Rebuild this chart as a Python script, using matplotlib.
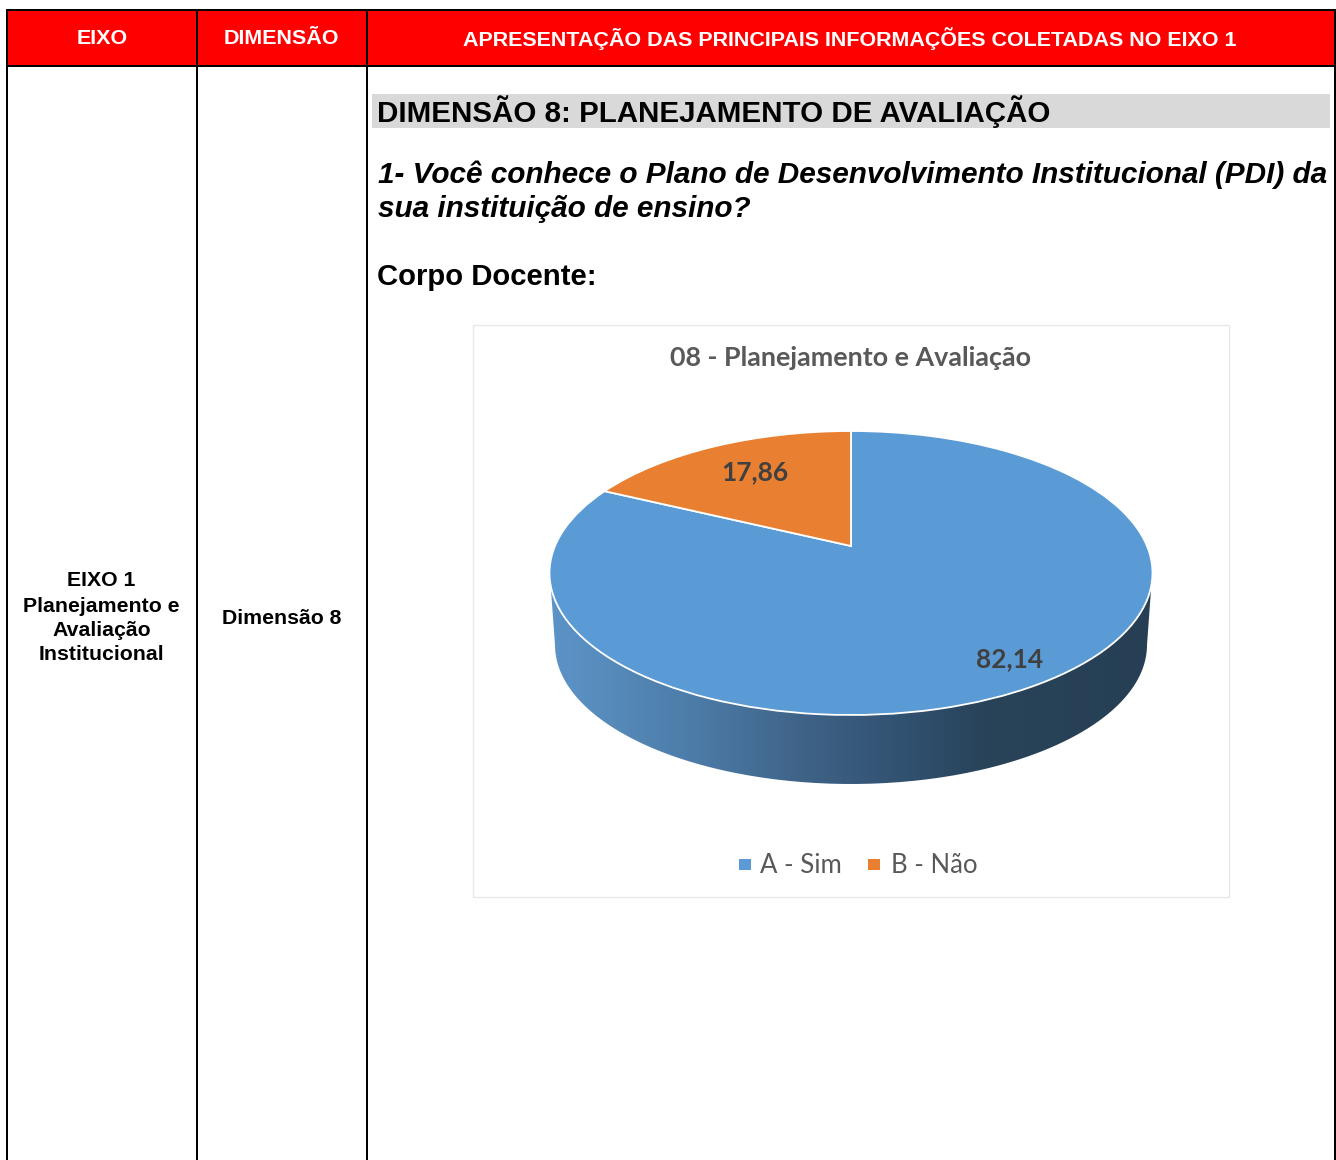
import numpy as np
import matplotlib
matplotlib.use("Agg")
import matplotlib.pyplot as plt
from matplotlib.patches import Rectangle, PathPatch
from matplotlib.path import Path
from matplotlib.transforms import Transform
from matplotlib.colors import LinearSegmentedColormap

# ---- data ----
categories = ["A - Sim", "B - Não"]
values = [82.14, 17.86]
colors = ["#5B9BD5", "#E97F31"]
chart_title = "08 - Planejamento e Avaliação"
headers = ["EIXO", "DIMENSÃO", "APRESENTAÇÃO DAS PRINCIPAIS INFORMAÇÕES COLETADAS NO EIXO 1"]
axis_lines = ["EIXO 1", "Planejamento e", "Avaliação", "Institucional"]
dimension_label = "Dimensão 8"
section_title = "DIMENSÃO 8: PLANEJAMENTO DE AVALIAÇÃO"
question_lines = ["1- Você conhece o Plano de Desenvolvimento Institucional (PDI) da",
                  "sua instituição de ensino?"]
group_label = "Corpo Docente:"

W, H = 1336, 1160
fig = plt.figure(figsize=(W / 100, H / 100), dpi=100, facecolor="white")
ax = fig.add_axes([0, 0, 1, 1])
ax.set_xlim(0, W)
ax.set_ylim(H, 0)
ax.axis("off")

ARIAL = "Liberation Sans"
CAL = "Lato"
def px(s):
    return s * 0.72

# ---- table ----
ax.add_patch(Rectangle((7, 10), 1328, 56, fc="#FF0000", ec="none", zorder=1))
for x in (7, 197, 367, 1335):
    ax.plot([x, x], [9, H + 2], color="black", lw=2 * 0.72, solid_capstyle="butt", zorder=2)
for y in (10, 66):
    ax.plot([6, 1336], [y, y], color="black", lw=2 * 0.72, solid_capstyle="butt", zorder=2)

for cx, s in zip((102, 281.5, 850), headers):
    ax.text(cx, 39, s, ha="center", va="center", color="white", family=ARIAL,
            weight="bold", fontsize=px(21.5), zorder=3)
for y, s in zip((581, 606, 630, 655), axis_lines):
    ax.text(101.5, y, s, ha="center", va="center", color="black", family=ARIAL,
            weight="bold", fontsize=px(21.3), zorder=3)
ax.text(281.5, 618, dimension_label, ha="center", va="center", color="black", family=ARIAL,
        weight="bold", fontsize=px(21.3), zorder=3)

ax.add_patch(Rectangle((372, 94), 958, 34, fc="#D9D9D9", ec="none", zorder=1))
ax.text(377, 112, section_title, ha="left", va="center", color="black", family=ARIAL,
        weight="bold", fontsize=px(29.5), zorder=3)
for y, s in zip((175, 209), question_lines):
    ax.text(378, y, s, ha="left", va="center", color="black", family=ARIAL,
            weight="bold", style="italic", fontsize=px(29.75), zorder=3)
ax.text(377, 277, group_label, ha="left", va="center", color="black", family=ARIAL,
        weight="bold", fontsize=px(29.2), zorder=3)

# ---- chart frame ----
ax.add_patch(Rectangle((473, 325), 756, 572, fc="white", ec="#E8E8E8", lw=1, zorder=1))
ax.text(851, 358, chart_title, ha="center", va="center", color="#595959", family=CAL,
        weight="bold", fontsize=px(26.9), zorder=3)

# ---- 3D pie: side wall ----
cx0, cy0 = 851, 573
cy1, a1, b1 = 645, 296, 139
t = np.linspace(np.pi, 2 * np.pi, 200)
low = np.column_stack([cx0 + a1 * np.cos(t), cy1 - b1 * np.sin(t)])
verts = np.vstack([[[551, 590]], low, [[1151, 590]], [[551, 590]]])
wall_path = Path(verts)
cmap = LinearSegmentedColormap.from_list("wall", [
    (0.00, "#5C93C8"), (0.10, "#568AB9"), (0.25, "#4B7AA6"), (0.42, "#3F6387"),
    (0.50, "#385A7C"), (0.62, "#2F4E6C"), (0.72, "#294359"), (1.00, "#263F55")])
im = ax.imshow(np.linspace(0, 1, 300)[None, :], extent=(551, 1151, 790, 585), cmap=cmap,
               aspect="auto", zorder=2, vmin=0, vmax=1, interpolation="bilinear")
im.set_clip_path(PathPatch(wall_path, transform=ax.transData))
ax.set_xlim(0, W)
ax.set_ylim(H, 0)

# ---- 3D pie: top surface, drawn with ax.pie and a perspective projection ----
class Perspective(Transform):
    input_dims = output_dims = 2
    is_affine = False
    def transform_non_affine(self, xy):
        xy = np.asarray(xy, float)
        u, v = xy[:, 0], xy[:, 1]
        d = 1 + 0.19014 * v
        return np.column_stack([cx0 + 296 * u / d, cy0 - (142 * v + 27) / d])

pie_ax = fig.add_axes([0.4, 0.3, 0.4, 0.4])
pie_ax.axis("off")
wedges, _ = pie_ax.pie(values, colors=colors, startangle=90, counterclock=False, radius=1,
                       wedgeprops=dict(edgecolor="white", linewidth=1.3))
proj = Perspective() + ax.transData
for w in wedges:
    w.set_transform(proj)
    w.set_clip_on(False)
    w.set_zorder(4)

fmt = lambda v: f"{v:.2f}".replace(".", ",")
ax2 = fig.add_axes([0, 0, 1, 1], facecolor="none")
ax2.set_xlim(0, W)
ax2.set_ylim(H, 0)
ax2.axis("off")
for (x, y), v in zip(((1010, 659), (755, 472)), values):
    ax2.text(x, y, fmt(v), ha="center", va="center", color="#404040", family=CAL,
             weight="bold", fontsize=px(26.3), zorder=6)

# ---- legend ----
for x0, xt, c, s in zip((739, 868), (760, 891), colors, categories):
    ax2.add_patch(Rectangle((x0, 859), 12, 11, fc=c, ec="none"))
    ax2.text(xt, 865.5, s, ha="left", va="center", color="#595959", family=CAL, fontsize=px(25.7))

fig.savefig("out.png", dpi=100, facecolor="white")
